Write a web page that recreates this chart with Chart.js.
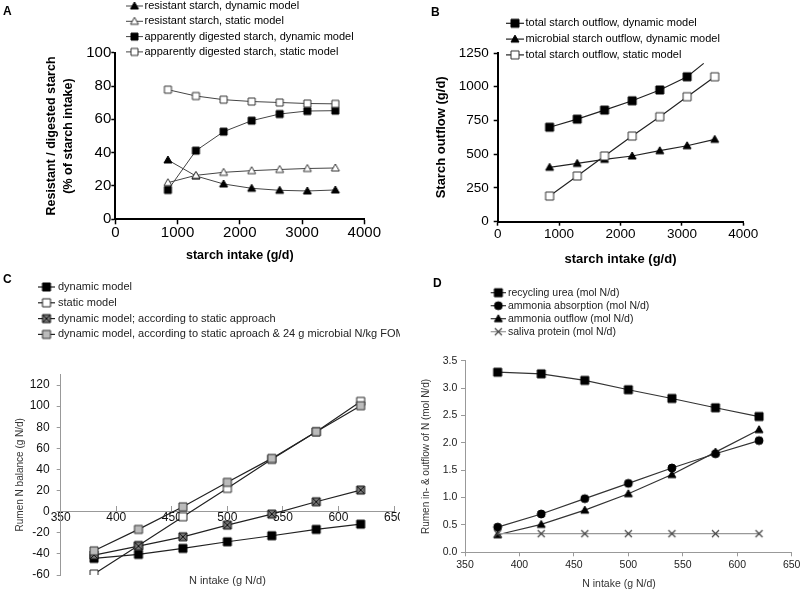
<!DOCTYPE html>
<html><head><meta charset="utf-8">
<script src="https://cdn.jsdelivr.net/npm/chart.js@4.4.1/dist/chart.umd.min.js"></script>
<style>
html,body{margin:0;padding:0;background:#fff;}
#page{position:relative;width:800px;height:592px;overflow:hidden;font-family:"Liberation Sans",Arial,sans-serif;}
canvas{position:absolute;}
.txt{position:absolute;white-space:nowrap;line-height:1;}
.lab{font-weight:bold;font-size:12px;color:#000;}
</style></head><body>
<div id="page">
<canvas id="cA" width="400" height="270" style="left:0;top:0"></canvas>
<canvas id="cB" width="400" height="270" style="left:400px;top:0"></canvas>
<canvas id="cC" width="400" height="322" style="left:0;top:270px"></canvas>
<canvas id="cD" width="400" height="322" style="left:400px;top:270px"></canvas>
<div class="txt lab" style="left:3px;top:4.5px">A</div>
<div class="txt lab" style="left:431px;top:5.7px">B</div>
<div class="txt lab" style="left:3px;top:273.4px">C</div>
<div class="txt lab" style="left:433px;top:276.5px">D</div>
<div class="txt" style="left:227.4px;top:580px;font-size:11px;color:#333;transform:translate(-50%,-50%)">N intake (g N/d)</div>
<div class="txt" style="left:619px;top:583px;font-size:10.5px;color:#333;transform:translate(-50%,-50%)">N intake (g N/d)</div>
</div>
<script>
// ---------- data ----------
const starchIntake = [845, 1295, 1740, 2190, 2640, 3085, 3535];
const resistantDynamic = [35.6, 26.0, 21.2, 18.6, 17.4, 17.0, 17.6];
const resistantStatic = [22.0, 26.4, 28.2, 29.2, 29.9, 30.5, 30.8];
const digestedDynamic = [17.6, 41.2, 52.6, 59.2, 63.2, 65.0, 65.2];
const digestedStatic = [77.8, 74.0, 71.8, 70.7, 70.1, 69.5, 69.3];

const outflowTotalDynamic = [700, 760, 827, 896, 976, 1074];
const outflowTotalDynamicEnd = {intake: 3355, outflow: 1173}; // line runs on without a marker
const outflowMicrobialDynamic = [403, 432, 462, 487, 526, 563, 610];
const outflowTotalStatic = [190, 339, 487, 635, 778, 926, 1074];

const nIntake = [380, 420, 460, 500, 540, 580, 620];
const nBalanceDynamic = [-44.3, -40.5, -34.8, -28.5, -22.8, -16.8, -11.8];
const nBalanceStatic = [-59.1, -32.0, -4.8, 22.1, 49.6, 75.7, 104.5];
const nBalanceDynStaticApproach = [-41.1, -32.6, -23.8, -12.7, -2.3, 9.4, 20.5];
const nBalanceDynStatic24g = [-37.1, -16.8, 4.6, 27.8, 50.5, 75.7, 100.4];

const recyclingUrea = [3.29, 3.26, 3.14, 2.97, 2.81, 2.64, 2.48];
const ammoniaAbsorption = [0.46, 0.70, 0.98, 1.26, 1.54, 1.80, 2.04];
const ammoniaOutflow = [0.32, 0.51, 0.77, 1.07, 1.42, 1.83, 2.24];
const salivaProtein = [0.34, 0.34, 0.34, 0.34, 0.34, 0.34, 0.34];

const ticksStarchIntake = [0, 4000, 1000];
const ticksA = [0, 100, 20];
const ticksB = [0, 1250, 250];
const ticksNIntake = [350, 650, 50];
const ticksC = [-60, 130, 20];
const ticksD = [0, 3.5, 0.5];

// ---------- helpers ----------
const FONT = '"Liberation Sans", Arial, sans-serif';
Chart.defaults.font.family = FONT;

function marker(shape, size, fill, stroke, lw) {
  const n = Math.ceil(size + 4);
  const c = document.createElement('canvas');
  c.width = n; c.height = n;
  const g = c.getContext('2d');
  const m = n / 2, h = size / 2;
  g.lineWidth = lw; g.fillStyle = fill || '#fff'; g.strokeStyle = stroke;
  g.beginPath();
  if (shape === 'square' || shape === 'xsquare') g.rect(m - h, m - h, size, size);
  else if (shape === 'triangle') { g.moveTo(m, m - h); g.lineTo(m + h, m + h * 0.75); g.lineTo(m - h, m + h * 0.75); g.closePath(); }
  else if (shape === 'circle') g.arc(m, m, h, 0, Math.PI * 2);
  if (shape !== 'x') { if (fill) g.fill(); g.stroke(); }
  if (shape === 'x' || shape === 'xsquare') {
    g.beginPath();
    g.moveTo(m - h, m - h); g.lineTo(m + h, m + h);
    g.moveTo(m + h, m - h); g.lineTo(m - h, m + h);
    g.stroke();
  }
  return c;
}

function series(label, xs, ys, img, color, width, idx, extra) {
  return Object.assign({
    label, data: xs.map((x, i) => ({x, y: ys[i]})),
    pointStyle: img, pointRadius: 4, pointHoverRadius: 4,
    borderColor: color, backgroundColor: color, borderWidth: width,
    tension: 0, fill: false, order: -idx, legendImg: img
  }, extra || {});
}

function axis(o) {
  return {
    type: 'linear', min: o.t[0], max: o.t[1], position: o.position,
    border: {display: true, color: o.lineColor, width: o.lineWidth},
    grid: {display: true, drawOnChartArea: false, drawTicks: true, tickLength: o.tl,
           tickColor: o.lineColor, tickWidth: o.tickWidth || 1, color: o.lineColor},
    ticks: {stepSize: o.t[2], autoSkip: false, maxRotation: 0, minRotation: 0, includeBounds: false,
            padding: o.pad, color: o.color, font: {family: FONT, size: o.fs},
            callback: o.cb || (v => String(v))},
    title: o.title ? {display: true, text: o.title, color: o.titleColor || o.color,
      font: {family: FONT, size: o.tfs, weight: o.bold ? 'bold' : 'normal', lineHeight: o.tlh || 1.2},
      padding: o.tpad} : {display: false},
    afterFit: s => {
      if (o.w !== undefined) s.width = o.w;
      if (o.h !== undefined) s.height = o.h;
      s.paddingLeft = 0; s.paddingRight = 0; s.paddingTop = 0; s.paddingBottom = 0;
    }
  };
}

const lineLegend = {
  id: 'lineLegend',
  afterDraw(chart, args, o) {
    const ctx = chart.ctx;
    ctx.save();
    ctx.font = o.font;
    ctx.textBaseline = 'middle';
    ctx.textAlign = 'left';
    chart.data.datasets.forEach((ds, i) => {
      const y = o.y + i * o.row;
      ctx.strokeStyle = ds.borderColor;
      ctx.lineWidth = ds.borderWidth;
      ctx.beginPath(); ctx.moveTo(o.x, y); ctx.lineTo(o.x + o.len, y); ctx.stroke();
      const img = ds.legendImg;
      ctx.drawImage(img, o.x + o.len / 2 - img.width / 2, y - img.height / 2);
      ctx.fillStyle = o.color;
      ctx.fillText(ds.label, o.x + o.len + o.gap, y);
    });
    ctx.restore();
  }
};

function makeChart(id, datasets, xAxis, yAxis, pad, legend) {
  return new Chart(document.getElementById(id), {
    type: 'line',
    data: {datasets},
    options: {
      responsive: false, animation: false, devicePixelRatio: 1, events: [],
      layout: {padding: pad},
      plugins: {legend: {display: false}, tooltip: {enabled: false}, lineLegend: legend},
      scales: {x: xAxis, y: yAxis}
    },
    plugins: [lineLegend]
  });
}

// ---------- panel A ----------
makeChart('cA', [
  series('resistant starch, dynamic model', starchIntake, resistantDynamic, marker('triangle', 8, '#000', '#000', 1), '#444', 1, 0),
  series('resistant starch, static model', starchIntake, resistantStatic, marker('triangle', 8, '#fff', '#333', 1), '#444', 1, 1),
  series('apparently digested starch, dynamic model', starchIntake, digestedDynamic, marker('square', 7, '#000', '#000', 1), '#444', 1, 2),
  series('apparently digested starch, static model', starchIntake, digestedStatic, marker('square', 7, '#fff', '#333', 1), '#444', 1, 3)
],
  axis({t: ticksStarchIntake, position: 'bottom', lineColor: '#000', lineWidth: 2, tickWidth: 1.5, tl: 5, pad: 0, color: '#000', fs: 15,
        title: 'starch intake (g/d)', tfs: 12.5, bold: true, tpad: {top: 0, bottom: 6.5}, h: 50.7}),
  axis({t: ticksA, position: 'left', lineColor: '#000', lineWidth: 2, tickWidth: 1.5, tl: 4, pad: 0, color: '#000', fs: 15,
        title: ['Resistant / digested starch', '(% of starch intake)'], tfs: 12.5, bold: true, tlh: 1.33,
        tpad: {top: 43.4, bottom: 0}, w: 115.3}),
  {left: 0, top: 52.7, right: 35.7, bottom: 0},
  {x: 126, y: 6, row: 15.3, len: 17, gap: 1.5, font: '11px ' + FONT, color: '#000'}
);

// ---------- panel B ----------
const bTotalDynX = starchIntake.slice(0, outflowTotalDynamic.length).concat([outflowTotalDynamicEnd.intake]);
const bTotalDynY = outflowTotalDynamic.concat([outflowTotalDynamicEnd.outflow]);
makeChart('cB', [
  series('total starch outflow, dynamic model', bTotalDynX, bTotalDynY, marker('square', 8, '#000', '#000', 1), '#222', 1.2, 0,
         {pointRadius: bTotalDynX.map((x, i) => i < outflowTotalDynamic.length ? 4 : 0)}),
  series('microbial starch outflow, dynamic model', starchIntake, outflowMicrobialDynamic, marker('triangle', 8, '#000', '#000', 1), '#222', 1.2, 1),
  series('total starch outflow, static model', starchIntake, outflowTotalStatic, marker('square', 8, '#fff', '#333', 1), '#222', 1.2, 2)
],
  axis({t: ticksStarchIntake, position: 'bottom', lineColor: '#000', lineWidth: 2, tickWidth: 1.5, tl: 4, pad: 0, color: '#000', fs: 13.5,
        title: 'starch intake (g/d)', tfs: 13, bold: true, tpad: {top: 0, bottom: 2.5}, h: 48.3}),
  axis({t: ticksB, position: 'left', lineColor: '#000', lineWidth: 2, tickWidth: 1.5, tl: 4, pad: 5, color: '#000', fs: 13.5,
        title: 'Starch outflow (g/d)', tfs: 13, bold: true, tpad: {top: 33.9, bottom: 0}, w: 97.7}),
  {left: 0, top: 53, right: 56.7, bottom: 0},
  {x: 106, y: 23.3, row: 15.8, len: 18, gap: 1.5, font: '11px ' + FONT, color: '#000'}
);

// ---------- panel C ----------
makeChart('cC', [
  series('dynamic model', nIntake, nBalanceDynamic, marker('square', 8, '#000', '#000', 1), '#222', 1.2, 0),
  series('static model', nIntake, nBalanceStatic, marker('square', 8, '#fff', '#222', 1), '#222', 1.2, 1),
  series('dynamic model; according to static approach', nIntake, nBalanceDynStaticApproach, marker('xsquare', 8, '#777', '#111', 1), '#222', 1.2, 2),
  series('dynamic model, according to static aproach & 24 g microbial N/kg FOM', nIntake, nBalanceDynStatic24g, marker('square', 8, '#bbb', '#333', 1), '#222', 1.2, 3)
],
  axis({t: ticksNIntake, position: {y: 0}, lineColor: '#999', lineWidth: 1, tl: -6, pad: 4.7, color: '#111', fs: 12, h: 0}),
  axis({t: ticksC, position: 'left', lineColor: '#999', lineWidth: 1, tl: 4, pad: 7, color: '#111', fs: 12,
        title: 'Rumen N balance (g N/d)', tfs: 10, titleColor: '#333', tpad: {top: 14, bottom: 0}, w: 60.7}),
  {left: 0, top: 104.5, right: 6, bottom: 17},
  {x: 38, y: 17, row: 15.8, len: 17, gap: 3, font: '11px ' + FONT, color: '#222'}
);

// ---------- panel D ----------
makeChart('cD', [
  series('recycling urea (mol N/d)', nIntake, recyclingUrea, marker('square', 8, '#000', '#000', 1), '#333', 1.2, 0),
  series('ammonia absorption (mol N/d)', nIntake, ammoniaAbsorption, marker('circle', 8, '#000', '#000', 1), '#333', 1.2, 1),
  series('ammonia outflow (mol N/d)', nIntake, ammoniaOutflow, marker('triangle', 8, '#000', '#000', 1), '#333', 1.2, 2),
  series('saliva protein (mol N/d)', nIntake, salivaProtein, marker('x', 7, null, '#444', 1.2), '#999', 1.2, 3)
],
  axis({t: ticksNIntake, position: 'bottom', lineColor: '#999', lineWidth: 1, tl: 4, pad: 2.4, color: '#222', fs: 10.5, h: 39.7}),
  axis({t: ticksD, position: 'left', lineColor: '#999', lineWidth: 1, tl: 4, pad: 3.7, color: '#222', fs: 10.5,
        cb: v => Number(v).toFixed(1),
        title: 'Rumen in- & outflow of N (mol N/d)', tfs: 10, titleColor: '#333', tpad: {top: 20, bottom: 0}, w: 65}),
  {left: 0, top: 90.7, right: 8.3, bottom: 0},
  {x: 90.7, y: 22.7, row: 13, len: 15.3, gap: 2, font: '10.5px ' + FONT, color: '#222'}
);
</script>
</body></html>
